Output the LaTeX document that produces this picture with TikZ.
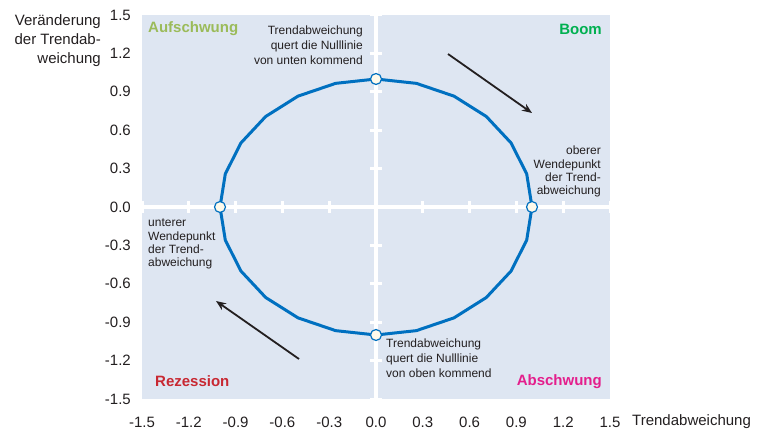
\documentclass[tikz,border=0pt]{standalone}
\usepackage{fontspec}
\setmainfont{Liberation Sans}
\usetikzlibrary{arrows.meta}
\definecolor{panelbg}{RGB}{222,230,242}
\definecolor{curveblue}{RGB}{0,112,192}
\definecolor{markfill}{RGB}{255,250,235}
\definecolor{txtgray}{RGB}{35,31,32}
\definecolor{cAuf}{RGB}{155,187,89}
\definecolor{cBoom}{RGB}{0,176,80}
\definecolor{cRez}{RGB}{200,40,50}
\definecolor{cAb}{RGB}{228,30,140}
\tikzset{
  big/.style={font=\fontsize{15}{19}\selectfont, text=txtgray, inner sep=0pt},
  small/.style={font=\fontsize{12}{14.7}\selectfont, text=txtgray, inner sep=0pt},
  smallside/.style={font=\fontsize{12}{13.2}\selectfont, text=txtgray, inner sep=0pt},
  phase/.style={font=\fontsize{15}{18}\selectfont\bfseries, inner sep=0pt},
  axisline/.style={white, line width=3.5pt},
  tickline/.style={white, line width=3pt},
  curve/.style={curveblue, line width=3pt, line join=round},
  marker/.style={circle, draw=curveblue, fill=markfill, line width=1.2pt, minimum size=11pt, inner sep=0pt},
  dirarrow/.style={txtgray, line width=1.8pt, -{Stealth[length=10pt,width=8pt]}}
}
\begin{document}
\begin{tikzpicture}[x=1pt,y=-1pt]
\useasboundingbox (0,0) rectangle (762,430);
% panel
\fill[panelbg] (142,15) rectangle (610,399);
% axes
\draw[axisline] (142,207) -- (610,207);
\draw[axisline] (376,15) -- (376,399);
\foreach \v in {-1.5,-1.2,-0.9,-0.6,-0.3,0.3,0.6,0.9,1.2,1.5}{
  \draw[tickline] ({376+156*\v},201) -- ({376+156*\v},213);
  \draw[tickline] (370,{207-128*\v}) -- (382,{207-128*\v});
}
% curve
\draw[curve] plot[samples=25, domain=0:360, variable=\a] ({376+156*cos(\a)},{207-128*sin(\a)}) -- cycle;
% markers
\node[marker] (ptop) at (376,79) {};
\node[marker] (pright) at (532,207) {};
\node[marker] (pbot) at (376,335) {};
\node[marker] (pleft) at (220,207) {};
% tick labels
\foreach \v/\t in {-1.5/-1.5,-1.2/-1.2,-0.9/-0.9,-0.6/-0.6,-0.3/-0.3,0/0.0,0.3/0.3,0.6/0.6,0.9/0.9,1.2/1.2,1.5/1.5}{
  \node[big, anchor=east] (yl\t) at (131,{207-128*\v}) {\t};
  \node[big] (xl\t) at ({376+156*\v},422) {\t};
}
% axis titles
\node[big, anchor=north east, align=right] (ytitle) at (101,14) {Veränderung\\der Trendab-\\weichung};
\node[big, anchor=west] (xtitle) at (632,422) {Trendabweichung};
% phases
\node[phase, text=cAuf, anchor=west] (auf) at (148,29) {Aufschwung};
\node[phase, text=cBoom, anchor=east] (boom) at (602,29) {Boom};
\node[phase, text=cRez, anchor=west] (rez) at (155,381) {Rezession};
\node[phase, text=cAb, anchor=east] (ab) at (602,382) {Abschwung};
% annotations
\node[small, anchor=north east, align=right] (a1) at (363,26) {Trendabweichung\\quert die Nulllinie\\von unten kommend};
\node[smallside, anchor=north east, align=right] (a2) at (601,146) {oberer\\Wendepunkt\\der Trend-\\abweichung};
\node[smallside, anchor=north west, align=left] (a3) at (148,219) {unterer\\Wendepunkt\\der Trend-\\abweichung};
\node[small, anchor=north west, align=left] (a4) at (386,339) {Trendabweichung\\quert die Nulllinie\\von oben kommend};
% direction arrows
\coordinate (b1s) at (448,54);
\coordinate (b1e) at (532,113);
\coordinate (b2s) at (299,359);
\coordinate (b2e) at (216,301);
\draw[dirarrow] (b1s) -- (b1e);
\draw[dirarrow] (b2s) -- (b2e);
\end{tikzpicture}
\end{document}
